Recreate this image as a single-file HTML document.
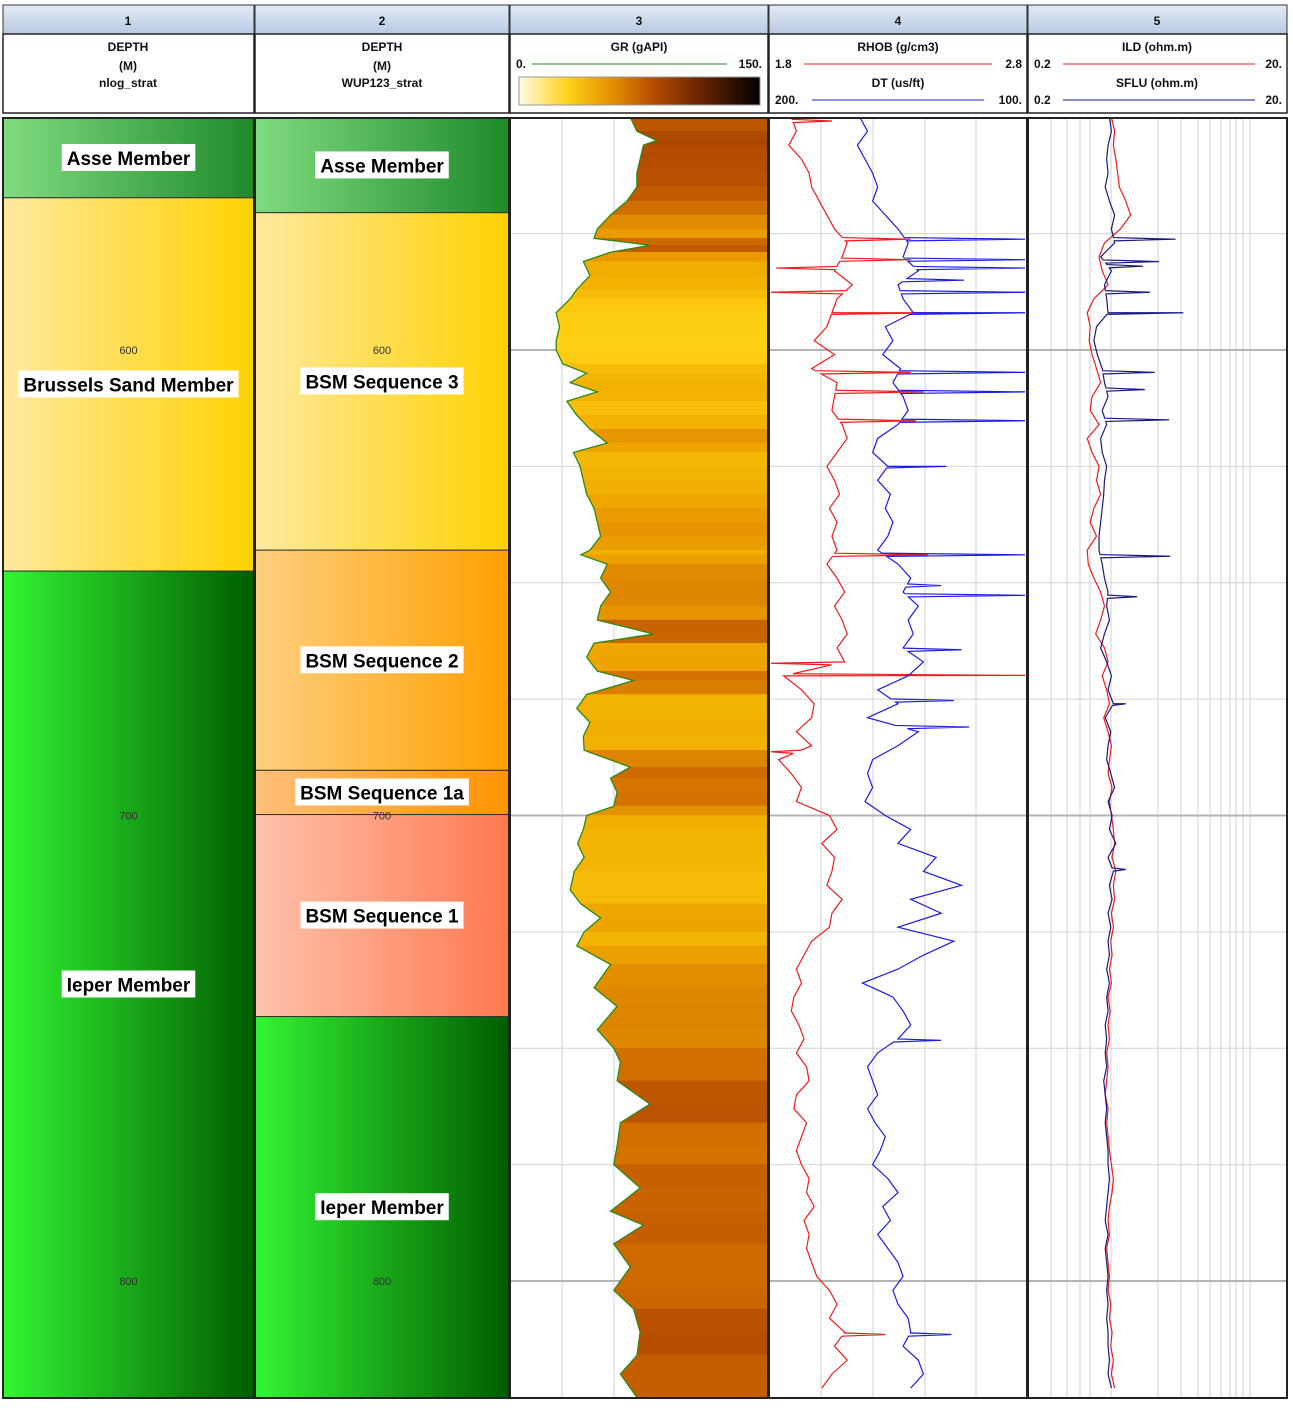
<!DOCTYPE html>
<html><head><meta charset="utf-8"><title>Well log</title>
<style>
body{margin:0;background:#fff;}
svg text{font-family:"Liberation Sans","DejaVu Sans",sans-serif;}
.h{font-size:12px;font-weight:bold;fill:#111;}
.fl{font-size:19px;font-weight:bold;fill:#000;}
.dl{font-size:11px;fill:#333;}
</style></head>
<body>
<svg id="log" xmlns="http://www.w3.org/2000/svg" width="1293" height="1403" viewBox="0 0 1293 1403">
<defs>
<linearGradient id="hdr" x1="0" y1="0" x2="0" y2="1"><stop offset="0" stop-color="#e3ebf5"/><stop offset="1" stop-color="#b7c9e2"/></linearGradient>
<linearGradient id="gAsse" x1="0" x2="1"><stop offset="0" stop-color="#80dc80"/><stop offset="1" stop-color="#1f8a2a"/></linearGradient>
<linearGradient id="gBrus" x1="0" x2="1"><stop offset="0" stop-color="#ffe9a0"/><stop offset="1" stop-color="#ffd200"/></linearGradient>
<linearGradient id="gIeper" x1="0" x2="1"><stop offset="0" stop-color="#33f533"/><stop offset="1" stop-color="#005c00"/></linearGradient>
<linearGradient id="gBsm2" x1="0" x2="1"><stop offset="0" stop-color="#ffcf80"/><stop offset="1" stop-color="#ffa000"/></linearGradient>
<linearGradient id="gBsm1a" x1="0" x2="1"><stop offset="0" stop-color="#ffc07a"/><stop offset="1" stop-color="#ff9400"/></linearGradient>
<linearGradient id="gBsm1" x1="0" x2="1"><stop offset="0" stop-color="#ffc2ac"/><stop offset="1" stop-color="#ff7850"/></linearGradient>
<linearGradient id="gCbar" x1="0" x2="1"><stop offset="0" stop-color="#fffbe8"/><stop offset="0.2" stop-color="#ffd21a"/><stop offset="0.4" stop-color="#e08a00"/><stop offset="0.55" stop-color="#b84e00"/><stop offset="0.75" stop-color="#6a2400"/><stop offset="1" stop-color="#000"/></linearGradient>
<clipPath id="c3"><rect x="511" y="118" width="257" height="1280"/></clipPath>
<clipPath id="c4"><rect x="770" y="118" width="257" height="1280"/></clipPath>
<clipPath id="c5"><rect x="1029" y="118" width="258" height="1280"/></clipPath>
</defs>
<rect x="0" y="0" width="1293" height="1403" fill="#fff"/>
<g>
<rect x="3" y="5" width="251" height="29" fill="url(#hdr)" stroke="#333"/>
<rect x="255" y="5" width="254" height="29" fill="url(#hdr)" stroke="#333"/>
<rect x="510" y="5" width="258" height="29" fill="url(#hdr)" stroke="#333"/>
<rect x="769" y="5" width="258" height="29" fill="url(#hdr)" stroke="#333"/>
<rect x="1028" y="5" width="259" height="29" fill="url(#hdr)" stroke="#333"/>
<text class="h" x="128" y="25" text-anchor="middle">1</text>
<text class="h" x="382" y="25" text-anchor="middle">2</text>
<text class="h" x="639" y="25" text-anchor="middle">3</text>
<text class="h" x="898" y="25" text-anchor="middle">4</text>
<text class="h" x="1157" y="25" text-anchor="middle">5</text>
</g>
<g>
<rect x="3" y="34" width="251" height="79" fill="#fff" stroke="#222" stroke-width="1.5"/>
<rect x="255" y="34" width="254" height="79" fill="#fff" stroke="#222" stroke-width="1.5"/>
<rect x="510" y="34" width="258" height="79" fill="#fff" stroke="#222" stroke-width="1.5"/>
<rect x="769" y="34" width="258" height="79" fill="#fff" stroke="#222" stroke-width="1.5"/>
<rect x="1028" y="34" width="259" height="79" fill="#fff" stroke="#222" stroke-width="1.5"/>
<text class="h" x="128" y="51" text-anchor="middle">DEPTH</text>
<text class="h" x="128" y="70" text-anchor="middle">(M)</text>
<text class="h" x="128" y="87" text-anchor="middle">nlog_strat</text>
<text class="h" x="382" y="51" text-anchor="middle">DEPTH</text>
<text class="h" x="382" y="70" text-anchor="middle">(M)</text>
<text class="h" x="382" y="87" text-anchor="middle">WUP123_strat</text>
<g>
<text class="h" x="639" y="51" text-anchor="middle">GR (gAPI)</text>
<text class="h" x="516" y="68">0.</text>
<line x1="532" y1="64" x2="727" y2="64" stroke="#2a8a2a" stroke-width="1"/>
<text class="h" x="762" y="68" text-anchor="end">150.</text>
<rect x="519" y="77" width="241" height="28" fill="url(#gCbar)" stroke="#999"/>
</g>
<g>
<text class="h" x="898" y="51" text-anchor="middle">RHOB (g/cm3)</text>
<text class="h" x="775" y="68">1.8</text>
<line x1="804" y1="64" x2="992" y2="64" stroke="#e82020" stroke-width="1"/>
<text class="h" x="1022" y="68" text-anchor="end">2.8</text>
<text class="h" x="898" y="87" text-anchor="middle">DT (us/ft)</text>
<text class="h" x="775" y="104">200.</text>
<line x1="812" y1="100" x2="984" y2="100" stroke="#2020e0" stroke-width="1"/>
<text class="h" x="1022" y="104" text-anchor="end">100.</text>
</g>
<g>
<text class="h" x="1157" y="51" text-anchor="middle">ILD (ohm.m)</text>
<text class="h" x="1034" y="68">0.2</text>
<line x1="1063" y1="64" x2="1255" y2="64" stroke="#e82020" stroke-width="1"/>
<text class="h" x="1282" y="68" text-anchor="end">20.</text>
<text class="h" x="1157" y="87" text-anchor="middle">SFLU (ohm.m)</text>
<text class="h" x="1034" y="104">0.2</text>
<line x1="1063" y1="100" x2="1255" y2="100" stroke="#1a1a80" stroke-width="1"/>
<text class="h" x="1282" y="104" text-anchor="end">20.</text>
</g>
</g>
<g id="body"></g>
</svg>
<script>
// ---------- data ----------
const formationTops1 = [550.2, 567.3, 647.5];
const formationNames1 = ["Asse Member", "Brussels Sand Member", "Ieper Member"];
const formationFills1 = ["gAsse", "gBrus", "gIeper"];
const formationTops2 = [550.2, 570.5, 643, 690.3, 699.8, 743.2];
const formationNames2 = ["Asse Member", "BSM Sequence 3", "BSM Sequence 2", "BSM Sequence 1a", "BSM Sequence 1", "Ieper Member"];
const formationFills2 = ["gAsse", "gBrus", "gBsm2", "gBsm1a", "gBsm1", "gIeper"];
const depthLabels = [600, 700, 800];

const grDepth = [550,553,555,556,559,562,565,568,571,574,576,577.5,579,581,584,587,589,592,595,598,600,603,605,607,609,611,614,617,620,622,625,628,631,634,637,640,643,644,646,649,652,655,658,661,663,666,669,671,674,677,680,683,686,689.6,692,695,698,700,703,706,709,712,716,719,722,725,728,732,737,741,746,750,753,757,762,766,771,775,780,785,788,792,797,802,806,811,816,820,825];
const grValue = [70,74,86,78,76,74,74,68,58,50,48,82,58,41.5,45.5,37.5,33.5,25,27,25,25,29,43.5,33.5,50,31.5,37.5,45.5,56,35.5,39.5,41.5,43.5,48,50,52,45.5,40,56,52,58,52,50,84,48,43.5,50,72,43.5,37.5,45.5,41.5,42,70,58,62,60,43.5,41.5,38,42,36,33.5,40,52,42,37.5,58,48,62,50,60,64,62,82,64,62,60,76,58,78,60,70,60,72,76,74,64,74];

const logDepth = [550,553,556,559,562,565,568,571,574,577,580,583,586,589,592,595,598,601,604,607,610,613,616,619,622,625,628,631,634,637,640,643,646,649,652,655,658,661,664,667,670,673,676,679,682,685,688,691,694,697,700,703,706,709,712,715,718,721,724,727,730,733,736,739,742,745,748,751,754,757,760,763,766,769,772,775,778,781,784,787,790,793,796,799,802,805,808,811,814,817,820,823];
const rhobValue = [1.88,1.90,1.87,1.92,1.95,1.96,1.99,2.02,2.05,2.10,2.08,2.05,2.12,2.06,2.04,2.02,1.97,2.05,1.96,2.06,2.05,2.04,2.08,2.10,2.06,2.02,2.05,2.07,2.03,2.06,2.04,2.06,2.02,2.06,2.09,2.05,2.08,2.10,2.06,2.09,1.85,1.92,1.97,1.96,1.90,1.96,1.83,1.88,1.92,1.90,2.03,2.06,2.00,2.05,2.04,2.02,2.08,2.04,2.03,1.96,1.93,1.90,1.92,1.89,1.88,1.91,1.93,1.90,1.94,1.95,1.90,1.89,1.94,1.92,1.90,1.92,1.95,1.94,1.97,1.93,1.95,1.94,1.96,1.98,2.03,2.06,2.03,2.09,2.05,2.10,2.04,2.00];
const dtValue = [165,162,166,163,160,158,160,155,150,146,148,142,150,148,144,155,152,156,149,152,148,146,150,158,160,154,158,153,155,152,154,158,150,145,148,142,146,144,148,140,146,158,150,162,142,150,160,162,160,163,155,145,150,135,140,125,145,133,150,128,140,150,164,152,148,145,150,158,162,160,158,162,159,155,157,160,154,150,156,153,158,154,150,148,152,150,146,145,148,142,140,145];
const ildValue = [0.85,0.9,0.88,0.92,0.95,0.98,1.1,1.2,1.0,0.75,0.68,0.72,0.8,0.62,0.55,0.58,0.57,0.6,0.65,0.7,0.6,0.58,0.68,0.55,0.6,0.68,0.65,0.7,0.62,0.58,0.65,0.55,0.56,0.62,0.7,0.75,0.7,0.64,0.75,0.8,0.72,0.78,0.82,0.74,0.8,0.85,0.82,0.8,0.86,0.82,0.85,0.88,0.9,0.86,0.92,0.88,0.9,0.85,0.88,0.84,0.86,0.82,0.85,0.8,0.83,0.8,0.82,0.78,0.8,0.78,0.76,0.8,0.78,0.8,0.82,0.85,0.88,0.86,0.82,0.8,0.82,0.78,0.8,0.82,0.8,0.84,0.82,0.86,0.84,0.88,0.85,0.9];
const sfluValue = [0.82,0.85,0.8,0.78,0.8,0.76,0.82,0.9,0.85,0.9,0.7,0.85,0.75,0.78,0.8,0.65,0.62,0.66,0.72,0.75,0.8,0.72,0.78,0.7,0.72,0.78,0.75,0.74,0.72,0.7,0.68,0.68,0.72,0.75,0.8,0.78,0.82,0.75,0.7,0.78,0.85,0.8,0.88,0.76,0.84,0.8,0.78,0.84,0.9,0.8,0.86,0.82,0.92,0.8,0.88,0.82,0.86,0.8,0.84,0.8,0.82,0.78,0.82,0.78,0.8,0.76,0.78,0.76,0.78,0.74,0.76,0.78,0.76,0.78,0.8,0.8,0.82,0.8,0.78,0.76,0.8,0.76,0.78,0.8,0.78,0.8,0.78,0.8,0.8,0.82,0.8,0.85];

const rhobSpikeDepth = [550.8,576.2,580.6,582.4,587.6,592,604.8,609,615.2,644,667.3,669.9,686.3,811.5];
const rhobSpikeValue = [2.04,2.35,2.35,1.82,1.80,2.47,2.35,2.40,2.37,2.42,1.80,2.80,1.80,2.25];
const dtSpikeDepth = [576.2,580.6,582.4,585,587.6,592,604.8,609,615.2,625,644,650.6,652.7,664.4,675.3,681,748.3,811.5];
const dtSpikeValue = [100,100,100,124,100,100,100,100,100,131,100,133,100,125,128,122,133,129];
const sfluSpikeDepth = [576.2,581,582,587.6,592,604.8,608.5,615,644.3,653,676,711.6];
const sfluSpikeValue = [2.7,2.0,1.5,1.7,3.1,1.85,1.55,2.4,2.45,1.35,1.1,1.1];

// ---------- scales ----------
const TOP = 550.2, BOT = 825.1;
function Y(d){ return 350 + (d - 600) * 4.655; }
function xGR(v){ return 515 + v / 150 * 247; }
function xRHOB(v){ return 771 + (v - 1.8) / 1.0 * 254; }
function xDT(v){ return 771 + (200 - v) / 100 * 254; }
function xRes(v){ return 1031 + 128 * Math.log10(v / 0.2); }

const NS = "http://www.w3.org/2000/svg";
const body = document.getElementById("body");
function mk(tag, attrs, parent){
  const e = document.createElementNS(NS, tag);
  for (const k in attrs) e.setAttribute(k, attrs[k]);
  (parent || body).appendChild(e);
  return e;
}
function interp(ds, vs, d){
  if (d <= ds[0]) return vs[0];
  for (let i = 1; i < ds.length; i++) if (d <= ds[i]) { const t = (d - ds[i-1]) / (ds[i] - ds[i-1]); return vs[i-1] + t * (vs[i] - vs[i-1]); }
  return vs[vs.length - 1];
}
function withSpikes(ds, vs, sd, sv){
  const pts = ds.map((d, i) => [d, vs[i]]);
  sd.forEach((d, i) => { const b1 = interp(ds, vs, d - 0.35), b2 = interp(ds, vs, d + 0.35); pts.push([d - 0.35, b1], [d, sv[i]], [d + 0.35, b2]); });
  pts.sort((a, b) => a[0] - b[0]);
  return pts;
}
const cmapStops = [[0,[255,251,232]],[25,[255,208,20]],[45,[240,170,0]],[60,[214,118,0]],[75,[184,78,0]],[110,[106,36,0]],[150,[0,0,0]]];
function cmap(v){
  for (let i = 1; i < cmapStops.length; i++) {
    if (v <= cmapStops[i][0]) { const a = cmapStops[i-1], b = cmapStops[i], t = (v - a[0]) / (b[0] - a[0]);
      return "rgb(" + a[1].map((c, k) => Math.round(c + t * (b[1][k] - c))).join(",") + ")"; }
  }
  return "rgb(0,0,0)";
}

// ---------- tracks 1 & 2: formations ----------
function formationTrack(x0, x1, tops, names, fills, prefix){
  const g = mk("g", {});
  
  
  const blocks = [];
  tops.forEach((t, i) => {
    const b = i + 1 < tops.length ? tops[i+1] : BOT;
    const r = mk("rect", {x: x0, y: Y(t), width: x1 - x0, height: Y(b) - Y(t), fill: "url(#" + fills[i] + ")", stroke: "#333", "stroke-width": 1}, g);
    
    
    blocks.push([t, b]);
  });
  depthLabels.forEach(d => {
    const t = mk("text", {x: (x0 + x1) / 2, y: Y(d) + 4, "text-anchor": "middle", class: "dl"}, g);
    t.textContent = d;
    
    
  });
  blocks.forEach((bk, i) => {
    const cy = (Y(bk[0]) + Y(bk[1])) / 2;
    const box = mk("rect", {x: 0, y: cy - 14, width: 10, height: 27, fill: "#fff"}, g);
    
    
    const t = mk("text", {x: (x0 + x1) / 2, y: cy + 7, "text-anchor": "middle", class: "fl"}, g);
    t.textContent = names[i];
    
    
    const w = t.getComputedTextLength() + 10;
    box.setAttribute("x", (x0 + x1) / 2 - w / 2);
    box.setAttribute("width", w);
  });
}
formationTrack(3, 254, formationTops1, formationNames1, formationFills1, "nlog");
formationTrack(255, 509, formationTops2, formationNames2, formationFills2, "wup123");

// ---------- grids for tracks 3-5 ----------
const gridG = mk("g", {});


[562, 614, 665, 717, 821, 873, 925, 976, 1051, 1067, 1080, 1090, 1111, 1158, 1181, 1198, 1210, 1221, 1230, 1236, 1243, 1250].forEach(x => {
  mk("line", {x1: x, y1: 118, x2: x, y2: 1398, stroke: "#d0d0d0", "stroke-width": 1}, gridG);
});
for (let d = 575; d <= 825; d += 25) {
  const major = d % 100 === 0;
  mk("line", {x1: 510, y1: Y(d), x2: 1287, y2: Y(d), stroke: major ? "#b4b4b4" : "#d4d4d4", "stroke-width": major ? 2 : 1}, gridG);
}

// ---------- track 3: GR ----------
const grG = mk("g", {"clip-path": "url(#c3)"});


for (let i = 0; i < grDepth.length - 1; i++) {
  const y1 = Y(grDepth[i]), y2 = Y(grDepth[i+1]);
  const p = mk("polygon", {points: xGR(grValue[i]) + "," + y1 + " " + xGR(grValue[i+1]) + "," + y2 + " 768," + y2 + " 768," + y1,
    fill: cmap((grValue[i] + grValue[i+1]) / 2), stroke: cmap((grValue[i] + grValue[i+1]) / 2), "stroke-width": 0.5}, grG);
  
  
}
const grLine = mk("polyline", {points: grDepth.map((d, i) => xGR(grValue[i]) + "," + Y(d)).join(" "), fill: "none", stroke: "#2a8a1a", "stroke-width": 1.3}, grG);



// ---------- track 4: RHOB & DT ----------
const t4 = mk("g", {"clip-path": "url(#c4)"});


const rh = withSpikes(logDepth, rhobValue, rhobSpikeDepth, rhobSpikeValue);
const rhLine = mk("polyline", {points: rh.map(p => xRHOB(p[1]) + "," + Y(p[0])).join(" "), fill: "none", stroke: "#ee1c1c", "stroke-width": 1.2}, t4);


const dt = withSpikes(logDepth, dtValue, dtSpikeDepth, dtSpikeValue);
const dtLine = mk("polyline", {points: dt.map(p => xDT(p[1]) + "," + Y(p[0])).join(" "), fill: "none", stroke: "#1c1ce6", "stroke-width": 1.2}, t4);



// ---------- track 5: ILD & SFLU ----------
const t5 = mk("g", {"clip-path": "url(#c5)"});


const ildLine = mk("polyline", {points: logDepth.map((d, i) => xRes(ildValue[i]) + "," + Y(d)).join(" "), fill: "none", stroke: "#ee1c1c", "stroke-width": 1.2}, t5);


const sf = withSpikes(logDepth, sfluValue, sfluSpikeDepth, sfluSpikeValue);
const sfLine = mk("polyline", {points: sf.map(p => xRes(p[1]) + "," + Y(p[0])).join(" "), fill: "none", stroke: "#1a1a80", "stroke-width": 1.2}, t5);



// ---------- track frames ----------
[[3,254],[255,509],[510,768],[769,1027],[1028,1287]].forEach(r => {
  const f = mk("rect", {x: r[0], y: 118, width: r[1] - r[0], height: 1280, fill: "none", stroke: "#222", "stroke-width": 2});
  
  
});
</script>
</body></html>
